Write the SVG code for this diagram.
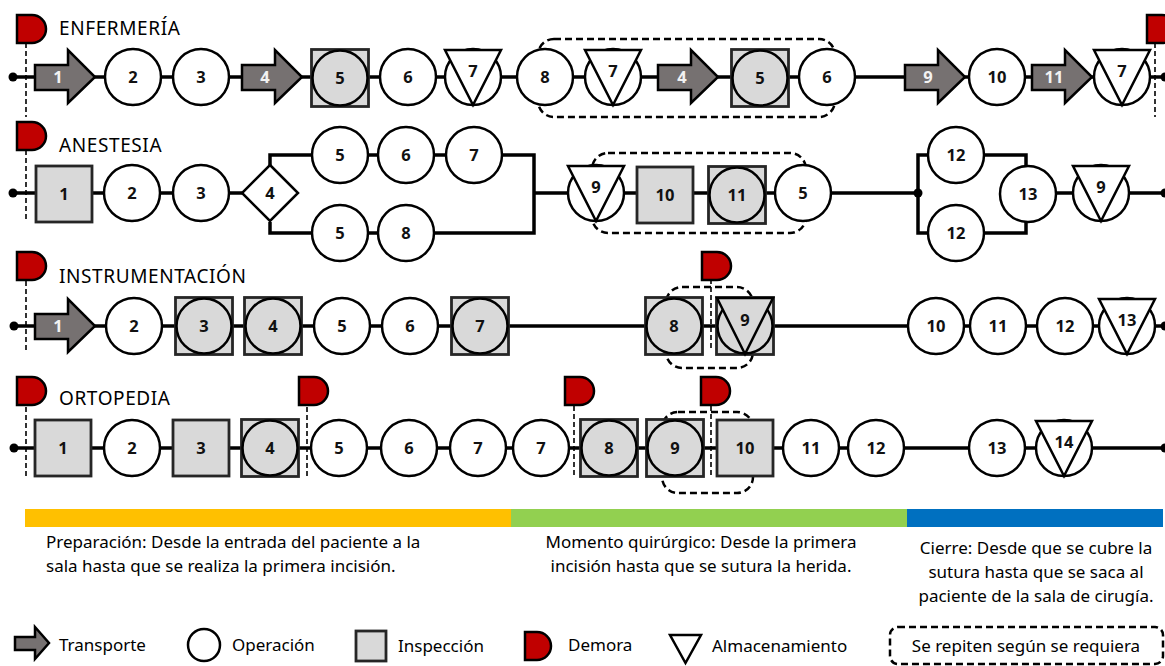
<svg xmlns="http://www.w3.org/2000/svg" width="1165" height="666" viewBox="0 0 1165 666">
<style>
.ln{stroke:#000;stroke-width:3.5;fill:none}
.op{fill:#fff;stroke:#000;stroke-width:2.5}
.ins{fill:#d9d9d9;stroke:#262626;stroke-width:2.8}
.inc{fill:#d9d9d9;stroke:#000;stroke-width:2.5}
.tri{fill:#fff;stroke:#000;stroke-width:2.5}
.trg{fill:#d9d9d9;stroke:#000;stroke-width:2.5}
.tr{fill:#767171;stroke:#000;stroke-width:2.5}
.dl{fill:#c00000;stroke:#000;stroke-width:2.5}
.dash{stroke:#000;stroke-width:1.6;stroke-dasharray:5,3;fill:none}
.box{stroke:#000;stroke-width:2.5;stroke-dasharray:7,4;fill:none}
.dot{fill:#000}
.n{font-family:"Noto Sans","Open Sans",sans-serif;font-weight:bold;font-size:16.5px;text-anchor:middle;fill:#111}
.nw{font-family:"Noto Sans","Open Sans",sans-serif;font-weight:bold;font-size:16.5px;text-anchor:middle;fill:#f2f2f2}
.h{font-family:"Noto Sans","Open Sans",sans-serif;font-size:19px;letter-spacing:0.6px;fill:#000}
.t{font-family:"Noto Sans","Open Sans",sans-serif;font-size:17px;fill:#000}
</style>
<defs>
<path id="arrow" d="M0,-12 H33 V-27 L60,0 L33,26 V13 H0 Z" class="tr"/>
<path id="flag" d="M0,0 H15 A14,14 0 0 1 15,28 H0 Z" class="dl"/>
<circle id="circ" r="28" class="op"/>
<g id="insp"><rect x="-28.5" y="-28.5" width="57" height="57" class="ins"/><circle r="27.5" class="inc"/></g>
<rect id="sq" x="-28" y="-28" width="56" height="56" class="ins"/>
<g id="store"><circle r="28" class="op"/><path d="M-28,-27 H28 L0,28 Z" class="tri"/></g>
<g id="instri"><rect x="-28.5" y="-28.5" width="57" height="57" class="ins"/><circle r="27.5" class="inc"/><path d="M-28,-28 H28 L0,28 Z" class="trg"/></g>
</defs>

<!-- connectors -->
<g id="connectors">
<path class="ln" d="M13,77 H1165"/>
<path class="ln" d="M13,193 H242 M270,166 V155 H534 V233 H270 V222 M534,193 H918 V155 H1026 V167 M918,193 V233 H1026 V221 M1056,193 H1165"/>
<path class="ln" d="M13,326 H1165"/>
<path class="ln" d="M13,448 H1165"/>
<rect class="box" x="538" y="39" width="297" height="78" rx="16"/>
<rect class="box" x="592" y="153" width="214" height="80" rx="16"/>
<rect class="box" x="666" y="287" width="87" height="81" rx="16"/>
<rect class="box" x="662" y="412" width="91" height="81" rx="16"/>
<path class="dash" d="M26,43 V117 M1155,43 V117 M26,150 V220 M26,281 V350 M711,279 V350 M26,407 V478 M307,407 V478 M574,406 V478 M711,406 V478"/>
<circle class="dot" cx="13" cy="77" r="4.5"/>
<circle class="dot" cx="1165" cy="77" r="4.5"/>
<circle class="dot" cx="13" cy="193" r="4.5"/>
<circle class="dot" cx="918" cy="193" r="4.5"/>
<circle class="dot" cx="1165" cy="193" r="4.5"/>
<circle class="dot" cx="14" cy="326" r="4.5"/>
<circle class="dot" cx="1165" cy="326" r="4.5"/>
<circle class="dot" cx="14" cy="448" r="4.5"/>
<circle class="dot" cx="1165" cy="448" r="4.5"/>
</g>

<!-- Row 1: ENFERMERIA -->
<g id="row1">
<use href="#flag" x="17" y="15"/>
<text class="h" x="59" y="35">ENFERMERÍA</text>
<g id="e1"><use href="#arrow" x="35" y="77"/><text class="nw" x="58" y="83">1</text></g>
<g id="e2"><use href="#circ" x="133" y="77"/><text class="n" x="133" y="83">2</text></g>
<g id="e3"><use href="#circ" x="201" y="77"/><text class="n" x="201" y="83">3</text></g>
<g id="e4"><use href="#arrow" x="242" y="77"/><text class="nw" x="265" y="83">4</text></g>
<g id="e5"><use href="#insp" x="340" y="78"/><text class="n" x="340" y="84">5</text></g>
<g id="e6"><use href="#circ" x="408" y="77"/><text class="n" x="408" y="83">6</text></g>
<g id="e7"><use href="#store" x="473" y="77"/><text class="n" x="473" y="77">7</text></g>
<g id="e8"><use href="#circ" x="545" y="77"/><text class="n" x="545" y="83">8</text></g>
<g id="e7b"><use href="#store" x="613" y="77"/><text class="n" x="613" y="77">7</text></g>
<g id="e4b"><use href="#arrow" x="658" y="77"/><text class="nw" x="682" y="83">4</text></g>
<g id="e5b"><use href="#insp" x="760" y="78"/><text class="n" x="760" y="84">5</text></g>
<g id="e6b"><use href="#circ" x="827" y="77"/><text class="n" x="827" y="83">6</text></g>
<g id="e9"><use href="#arrow" x="905" y="77"/><text class="nw" x="928" y="83">9</text></g>
<g id="e10"><use href="#circ" x="997" y="77"/><text class="n" x="997" y="83">10</text></g>
<g id="e11"><use href="#arrow" x="1032" y="77"/><text class="nw" x="1054" y="83">11</text></g>
<g id="e7c"><use href="#store" x="1122" y="77"/><text class="n" x="1122" y="77">7</text></g>
<use href="#flag" x="1147" y="15"/>
</g>

<!-- Row 2: ANESTESIA -->
<g id="row2">
<use href="#flag" x="17" y="122"/>
<text class="h" x="59" y="152">ANESTESIA</text>
<g id="a1"><use href="#sq" x="64" y="194"/><text class="n" x="64" y="200">1</text></g>
<g id="a2"><use href="#circ" x="132" y="193"/><text class="n" x="132" y="199">2</text></g>
<g id="a3"><use href="#circ" x="201" y="193"/><text class="n" x="201" y="199">3</text></g>
<g id="a4"><path d="M270,165 L298,193 L270,221 L242,193 Z" class="op"/><text class="n" x="270" y="199">4</text></g>
<g id="a5u"><use href="#circ" x="340" y="155"/><text class="n" x="340" y="161">5</text></g>
<g id="a6"><use href="#circ" x="406" y="155"/><text class="n" x="406" y="161">6</text></g>
<g id="a7"><use href="#circ" x="474" y="155"/><text class="n" x="474" y="161">7</text></g>
<g id="a5l"><use href="#circ" x="340" y="233"/><text class="n" x="340" y="239">5</text></g>
<g id="a8"><use href="#circ" x="406" y="233"/><text class="n" x="406" y="239">8</text></g>
<g id="a9"><use href="#store" x="596" y="193"/><text class="n" x="596" y="193">9</text></g>
<g id="a10"><use href="#sq" x="665" y="195"/><text class="n" x="665" y="201">10</text></g>
<g id="a11"><use href="#insp" x="737" y="195"/><text class="n" x="737" y="201">11</text></g>
<g id="a5b"><use href="#circ" x="803" y="193"/><text class="n" x="803" y="199">5</text></g>
<g id="a12u"><use href="#circ" x="956" y="155"/><text class="n" x="956" y="161">12</text></g>
<g id="a12l"><use href="#circ" x="956" y="233"/><text class="n" x="956" y="239">12</text></g>
<g id="a13"><use href="#circ" x="1028" y="194"/><text class="n" x="1028" y="200">13</text></g>
<g id="a9b"><use href="#store" x="1101" y="193"/><text class="n" x="1101" y="193">9</text></g>
</g>

<!-- Row 3: INSTRUMENTACION -->
<g id="row3">
<use href="#flag" x="17" y="252"/>
<text class="h" x="59" y="283">INSTRUMENTACIÓN</text>
<g id="i1"><use href="#arrow" x="35" y="326"/><text class="nw" x="58" y="332">1</text></g>
<g id="i2"><use href="#circ" x="134" y="326"/><text class="n" x="134" y="332">2</text></g>
<g id="i3"><use href="#insp" x="204" y="326"/><text class="n" x="204" y="332">3</text></g>
<g id="i4"><use href="#insp" x="273" y="326"/><text class="n" x="273" y="332">4</text></g>
<g id="i5"><use href="#circ" x="342" y="326"/><text class="n" x="342" y="332">5</text></g>
<g id="i6"><use href="#circ" x="410" y="326"/><text class="n" x="410" y="332">6</text></g>
<g id="i7"><use href="#insp" x="480" y="326"/><text class="n" x="480" y="332">7</text></g>
<g id="i8"><use href="#insp" x="674" y="326"/><text class="n" x="674" y="332">8</text></g>
<g id="i9"><use href="#instri" x="745" y="326"/><text class="n" x="745" y="326">9</text></g>
<use href="#flag" x="702" y="252"/>
<g id="i10"><use href="#circ" x="936" y="326"/><text class="n" x="936" y="332">10</text></g>
<g id="i11"><use href="#circ" x="998" y="326"/><text class="n" x="998" y="332">11</text></g>
<g id="i12"><use href="#circ" x="1065" y="326"/><text class="n" x="1065" y="332">12</text></g>
<g id="i13"><use href="#store" x="1127" y="326"/><text class="n" x="1127" y="326">13</text></g>
</g>

<!-- Row 4: ORTOPEDIA -->
<g id="row4">
<use href="#flag" x="17" y="377"/>
<text class="h" x="59" y="405">ORTOPEDIA</text>
<g id="o1"><use href="#sq" x="63" y="448"/><text class="n" x="63" y="454">1</text></g>
<g id="o2"><use href="#circ" x="132" y="448"/><text class="n" x="132" y="454">2</text></g>
<g id="o3"><use href="#sq" x="201" y="448"/><text class="n" x="201" y="454">3</text></g>
<g id="o4"><use href="#insp" x="270" y="448"/><text class="n" x="270" y="454">4</text></g>
<use href="#flag" x="299" y="377"/>
<g id="o5"><use href="#circ" x="339" y="448"/><text class="n" x="339" y="454">5</text></g>
<g id="o6"><use href="#circ" x="409" y="448"/><text class="n" x="409" y="454">6</text></g>
<g id="o7"><use href="#circ" x="478" y="448"/><text class="n" x="478" y="454">7</text></g>
<g id="o7b"><use href="#circ" x="541" y="448"/><text class="n" x="541" y="454">7</text></g>
<use href="#flag" x="565" y="377"/>
<g id="o8"><use href="#insp" x="609" y="448"/><text class="n" x="609" y="454">8</text></g>
<g id="o9"><use href="#insp" x="675" y="448"/><text class="n" x="675" y="454">9</text></g>
<use href="#flag" x="701" y="377"/>
<g id="o10"><use href="#sq" x="745" y="448"/><text class="n" x="745" y="454">10</text></g>
<g id="o11"><use href="#circ" x="811" y="448"/><text class="n" x="811" y="454">11</text></g>
<g id="o12"><use href="#circ" x="876" y="448"/><text class="n" x="876" y="454">12</text></g>
<g id="o13"><use href="#circ" x="997" y="448"/><text class="n" x="997" y="454">13</text></g>
<g id="o14"><use href="#store" x="1064" y="448"/><text class="n" x="1064" y="448">14</text></g>
</g>

<!-- phases -->
<g id="phases">
<rect x="25" y="509" width="486" height="18" fill="#ffc000"/>
<rect x="511" y="509" width="396" height="18" fill="#92d050"/>
<rect x="907" y="509" width="256" height="18" fill="#0070c0"/>
<text class="t" x="46" y="548">Preparación: Desde la entrada del paciente a la</text>
<text class="t" x="46" y="572">sala hasta que se realiza la primera incisión.</text>
<text class="t" x="701" y="548" text-anchor="middle">Momento quirúrgico: Desde la primera</text>
<text class="t" x="701" y="572" text-anchor="middle">incisión hasta que se sutura la herida.</text>
<text class="t" x="1036" y="554" text-anchor="middle">Cierre: Desde que se cubre la</text>
<text class="t" x="1036" y="578" text-anchor="middle">sutura hasta que se saca al</text>
<text class="t" x="1036" y="602" text-anchor="middle">paciente de la sala de cirugía.</text>
</g>

<!-- legend -->
<g id="legend">
<path d="M15,637 H35 V627 L49,643 L35,659 V650 H15 Z" class="tr"/>
<text class="t" x="59" y="651">Transporte</text>
<circle cx="204" cy="645" r="16" class="op"/>
<text class="t" x="232" y="651">Operación</text>
<rect x="356" y="631" width="30" height="30" class="ins"/>
<text class="t" x="398" y="652">Inspección</text>
<path d="M525,632 H537 A14,14 0 0 1 537,660 H525 Z" class="dl"/>
<text class="t" x="568" y="651">Demora</text>
<path d="M670,635 H701 L685.5,663 Z" class="tri"/>
<text class="t" x="712" y="652">Almacenamiento</text>
<rect x="890" y="627" width="273" height="37" rx="8" class="box"/>
<text class="t" x="1026" y="652" text-anchor="middle">Se repiten según se requiera</text>
</g>
</svg>
